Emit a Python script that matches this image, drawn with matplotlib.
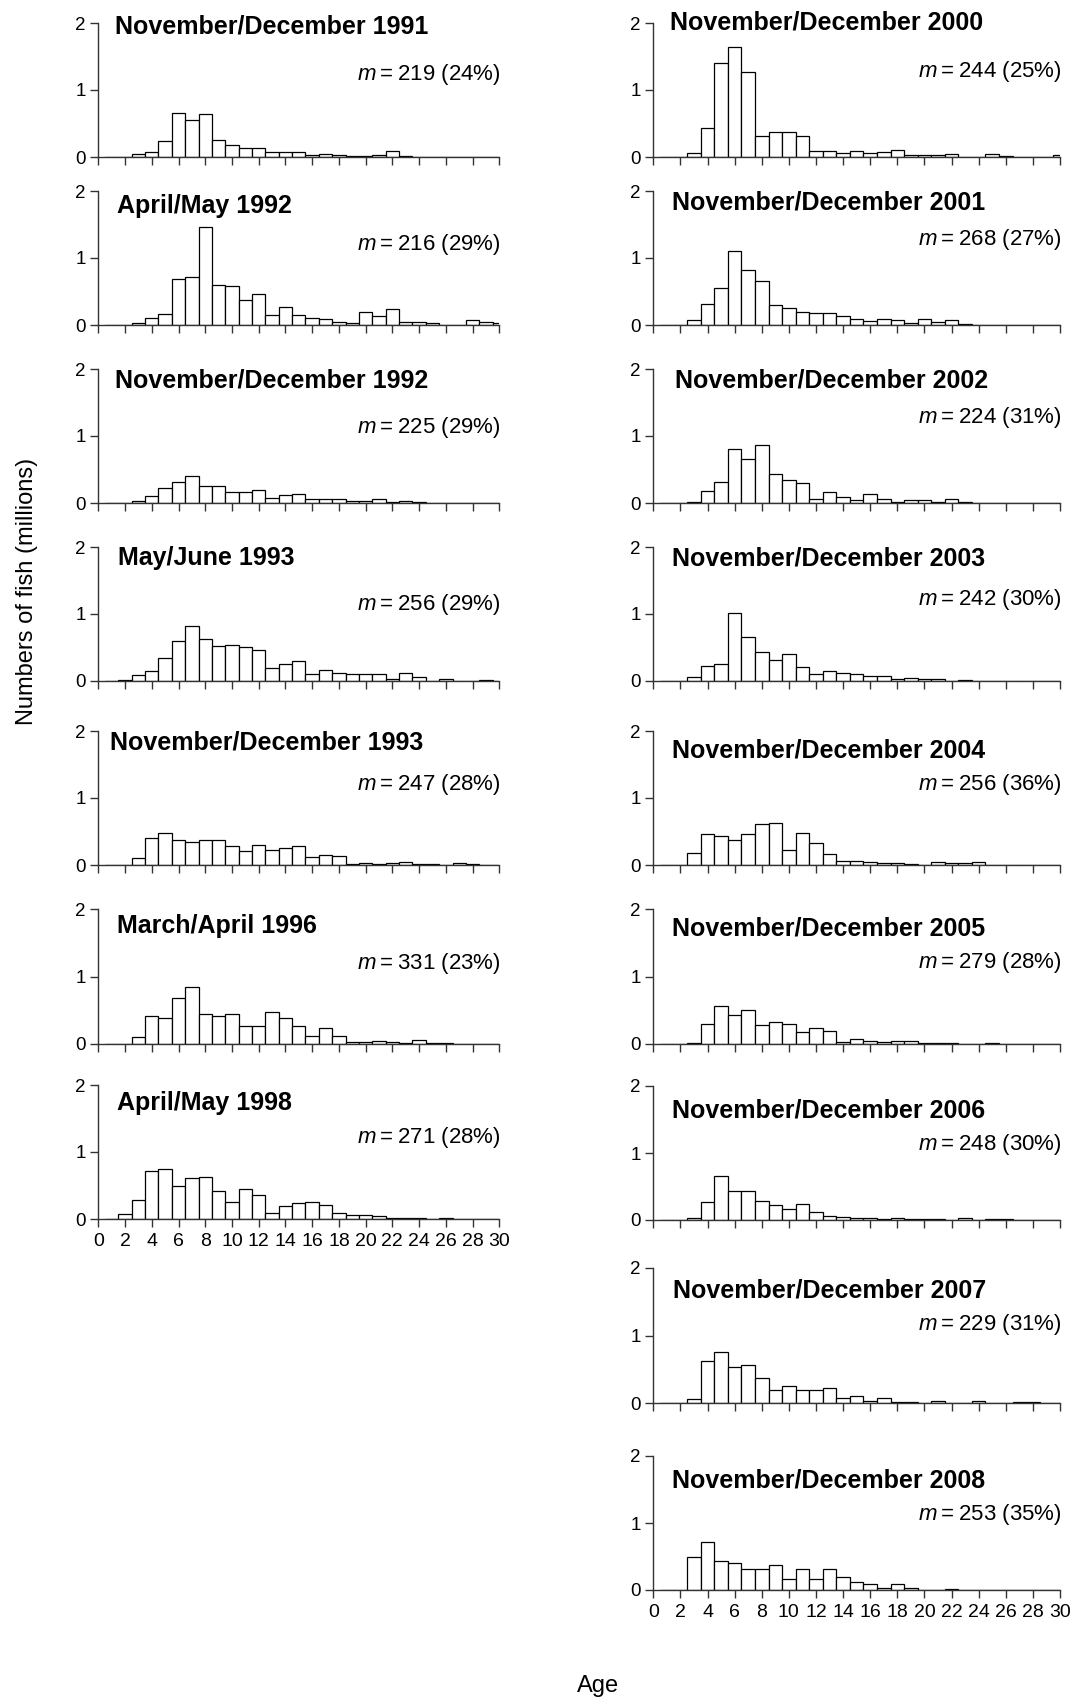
import numpy as np
import matplotlib
matplotlib.use("Agg")
import matplotlib.pyplot as plt

plt.rcParams["font.family"] = ["Liberation Sans", "DejaVu Sans"]
plt.rcParams["mathtext.fontset"] = "custom"
plt.rcParams["mathtext.it"] = "Liberation Sans:italic"
plt.rcParams["mathtext.rm"] = "Liberation Sans"

# age classes 1..30 years, numbers of fish in millions
ages = np.arange(1, 31)

nov_dec_1991 = [0, 0, .045, .08, .24, .66, .55, .64, .26, .18, .13, .14, .08, .075, .07,
                .03, .045, .03, .01, .01, .03, .085, .01, 0, 0, 0, 0, 0, 0, 0]
apr_may_1992 = [0, 0, .035, .11, .16, .68, .71, 1.47, .60, .58, .37, .47, .15, .27, .15,
                .11, .085, .045, .03, .19, .13, .24, .05, .05, .03, 0, 0, .07, .04, .025]
nov_dec_1992 = [0, 0, .035, .10, .22, .31, .40, .25, .25, .17, .16, .19, .07, .115, .13,
                .055, .055, .055, .035, .025, .055, .015, .035, .015, 0, 0, 0, 0, 0, 0]
may_jun_1993 = [0, .015, .085, .15, .34, .60, .82, .62, .52, .53, .50, .47, .20, .25, .30,
                .10, .17, .115, .10, .105, .11, .025, .115, .06, 0, .025, 0, 0, .015, 0]
nov_dec_1993 = [0, 0, .10, .40, .48, .37, .34, .38, .38, .29, .21, .30, .22, .25, .28,
                .12, .15, .13, .02, .025, .015, .03, .04, .02, .015, 0, .025, .02, 0, 0]
mar_apr_1996 = [0, 0, .11, .42, .38, .68, .85, .45, .41, .45, .27, .27, .47, .39, .26,
                .12, .23, .125, .025, .035, .045, .035, .02, .06, .01, .02, .005, 0, 0, 0]
apr_may_1998 = [0, .07, .28, .72, .74, .49, .61, .63, .42, .26, .45, .36, .09, .20, .24,
                .25, .21, .09, .06, .065, .04, .015, .01, .02, 0, .02, 0, 0, 0, 0]
nov_dec_2000 = [0, 0, .06, .43, 1.40, 1.64, 1.27, .32, .38, .37, .32, .095, .095, .055, .09,
                .055, .07, .11, .035, .035, .035, .04, 0, 0, .04, .015, 0, 0, 0, .025]
nov_dec_2001 = [0, 0, .075, .31, .55, 1.11, .82, .65, .30, .25, .19, .18, .175, .14, .085,
                .055, .085, .075, .035, .085, .045, .075, .015, 0, 0, 0, 0, 0, 0, 0]
nov_dec_2002 = [0, 0, .02, .18, .31, .81, .66, .87, .43, .35, .30, .065, .16, .095, .04,
                .13, .06, .02, .04, .04, .015, .055, .02, 0, 0, 0, 0, 0, 0, 0]
nov_dec_2003 = [0, 0, .06, .23, .26, 1.02, .65, .44, .32, .40, .21, .10, .145, .115, .11,
                .07, .07, .035, .05, .025, .035, 0, .01, 0, 0, 0, 0, 0, 0, 0]
nov_dec_2004 = [0, 0, .175, .46, .44, .38, .46, .61, .63, .23, .48, .33, .16, .055, .06,
                .045, .03, .025, .01, 0, .04, .03, .025, .04, 0, 0, 0, 0, 0, 0]
nov_dec_2005 = [0, 0, .015, .30, .57, .43, .51, .28, .33, .30, .18, .24, .19, .03, .07,
                .04, .03, .045, .045, .01, .02, .015, .005, .005, .015, 0, 0, 0, 0, 0]
nov_dec_2006 = [0, 0, .03, .27, .65, .44, .43, .29, .22, .165, .24, .12, .06, .045, .025,
                .025, .01, .03, .015, .015, .015, 0, .03, 0, .015, .01, 0, 0, 0, 0]
nov_dec_2007 = [0, 0, .065, .62, .755, .53, .56, .37, .20, .245, .195, .20, .215, .08, .11,
                .035, .075, .02, .02, 0, .03, 0, 0, .03, 0, 0, .015, .015, 0, 0]
nov_dec_2008 = [0, 0, .50, .72, .43, .40, .32, .31, .37, .165, .31, .165, .31, .19, .115,
                .085, .035, .085, .025, 0, 0, .01, 0, 0, 0, 0, 0, 0, 0, 0]

left_titles = ["November/December 1991", "April/May 1992", "November/December 1992",
               "May/June 1993", "November/December 1993", "March/April 1996", "April/May 1998"]
left_counts = [nov_dec_1991, apr_may_1992, nov_dec_1992, may_jun_1993,
               nov_dec_1993, mar_apr_1996, apr_may_1998]
left_m = [219, 216, 225, 256, 247, 331, 271]
left_pct = [24, 29, 29, 29, 28, 23, 28]

right_titles = ["November/December 2000", "November/December 2001", "November/December 2002",
                "November/December 2003", "November/December 2004", "November/December 2005",
                "November/December 2006", "November/December 2007", "November/December 2008"]
right_counts = [nov_dec_2000, nov_dec_2001, nov_dec_2002, nov_dec_2003, nov_dec_2004,
                nov_dec_2005, nov_dec_2006, nov_dec_2007, nov_dec_2008]
right_m = [244, 268, 224, 242, 256, 279, 248, 229, 253]
right_pct = [25, 27, 31, 30, 36, 28, 30, 31, 35]

# panel placement in pixels: x of age 0 / age 30, y of value 0 / value 2
W, H = 1075, 1697
left_x = (98.3, 499.3)
right_x = (653.3, 1060.0)
left_y = [(157, 23), (325, 191), (503, 369), (681, 547), (865, 731), (1044, 909), (1219, 1085)]
right_y = [(157, 23), (325, 191), (503, 369), (681, 547), (865, 731), (1044, 909),
           (1220, 1086), (1403, 1268), (1590, 1456)]
left_title_dy = [10, 22, 18, 18, 19, 24, 25]
left_title_dx = [17, 19, 17, 20, 12, 19, 19]
right_title_dy = [6, 18, 18, 18, 26, 27, 31, 30, 31]
right_title_dx = [17, 19, 22, 19, 19, 19, 19, 20, 19]
left_m_dy = [77, 75, 70, 71, 75, 75, 76]
right_m_dy = [80, 80, 80, 76, 75, 76, 70, 73, 70]


def draw_panel(fig, xs, ys, counts, title, m, pct, t_dx, t_dy, m_dy, show_xlabels):
    x0, x1 = xs
    y0, y2 = ys
    ax = fig.add_axes([x0 / W, 1 - y0 / H, (x1 - x0) / W, (y0 - y2) / H])
    ax.bar(ages, counts, width=1.0, color="white", edgecolor="black", linewidth=0.9)
    ax.set_xlim(0, 30)
    ax.set_ylim(0, 2)
    ax.spines["top"].set_visible(False)
    ax.spines["right"].set_visible(False)
    for side in ("left", "bottom"):
        ax.spines[side].set_linewidth(1.0)
        ax.spines[side].set_color("#333333")
    ax.set_xticks(range(0, 31, 2))
    ax.set_yticks([0, 1, 2])
    ax.tick_params(axis="both", direction="out", length=6, width=1.0, color="#333333")
    ax.tick_params(axis="y", labelsize=13.5, pad=3)
    ax.tick_params(axis="x", labelsize=14, pad=4)
    if not show_xlabels:
        ax.set_xticklabels([])
    ax.patch.set_visible(False)

    ax_h = y0 - y2
    ax_w = x1 - x0
    ax.text(t_dx / ax_w, 1 - t_dy / ax_h, title, transform=ax.transAxes,
            fontsize=18, fontweight="bold", ha="left", va="baseline")
    ax.text(1.003, m_dy / ax_h, r"$m$" + "\u2009=\u2009" + f"{m} ({pct}%)",
            transform=ax.transAxes, fontsize=16, ha="right", va="baseline")
    return ax


fig = plt.figure(figsize=(W / 100, H / 100), dpi=100)

for i in range(len(left_titles)):
    draw_panel(fig, left_x, left_y[i], left_counts[i], left_titles[i], left_m[i], left_pct[i],
               left_title_dx[i], left_title_dy[i], left_m_dy[i], i == len(left_titles) - 1)

for i in range(len(right_titles)):
    draw_panel(fig, right_x, right_y[i], right_counts[i], right_titles[i], right_m[i],
               right_pct[i], right_title_dx[i], right_title_dy[i], right_m_dy[i],
               i == len(right_titles) - 1)

fig.text(27 / W, 1 - 591 / H, "Numbers of fish (millions)", rotation=90,
         fontsize=17, ha="center", va="center")
fig.text(598 / W, 1 - 1692 / H, "Age", fontsize=17, ha="center", va="baseline")

fig.savefig("out.png", dpi=100, facecolor="white")
